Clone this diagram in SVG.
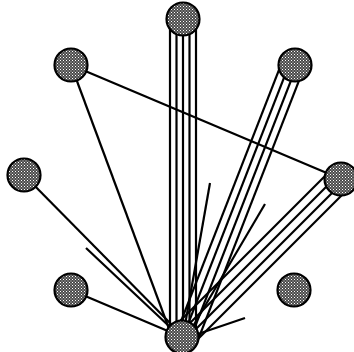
<svg xmlns="http://www.w3.org/2000/svg" width="354" height="352" viewBox="0 0 354 352">
<style>
.e{stroke:#000;stroke-width:2.2;fill:none;stroke-linecap:butt}
.n{fill:url(#dots);stroke:#000;stroke-width:2.2}
</style>
<defs>
<pattern id="dots" width="3" height="3" patternUnits="userSpaceOnUse">
<rect width="3" height="3" fill="#4a4a4a"/>
<rect x="0" y="0" width="1" height="1" fill="#fff"/>
<rect x="1.5" y="1.5" width="1" height="1" fill="#d8d8d8"/>
</pattern>
</defs>
<rect width="354" height="352" fill="#fff"/>
<g id="connectors">
<line class="e" x1="71" y1="65" x2="341" y2="179"/>
<line class="e" x1="71" y1="65" x2="169.5" y2="330"/>
<line class="e" x1="24" y1="175" x2="172" y2="325"/>
<line class="e" x1="86" y1="248" x2="171" y2="328"/>
<line class="e" x1="71" y1="290" x2="182" y2="337"/>
<line class="e" x1="170" y1="19" x2="170" y2="337"/>
<line class="e" x1="176.5" y1="19" x2="176.5" y2="337"/>
<line class="e" x1="183" y1="19" x2="183" y2="337"/>
<line class="e" x1="189.5" y1="19" x2="189.5" y2="337"/>
<line class="e" x1="196" y1="19" x2="196" y2="337"/>
<line class="e" x1="282.5" y1="60.9" x2="176.5" y2="332.9"/>
<line class="e" x1="289.5" y1="63.6" x2="183.5" y2="335.6"/>
<line class="e" x1="296.5" y1="66.4" x2="190.5" y2="338.4"/>
<line class="e" x1="303.5" y1="69.1" x2="196.8" y2="342.8"/>
<line class="e" x1="331.5" y1="169.5" x2="180" y2="321"/>
<line class="e" x1="337.5" y1="175.5" x2="182" y2="331"/>
<line class="e" x1="343.5" y1="181.5" x2="188" y2="337"/>
<line class="e" x1="349.5" y1="187.5" x2="194" y2="343"/>
<line class="e" x1="210" y1="183" x2="185" y2="325"/>
<line class="e" x1="265" y1="204" x2="192" y2="328"/>
<line class="e" x1="245" y1="318" x2="192" y2="336"/>
</g>
<g id="n-top"><circle class="n" cx="183" cy="19" r="16.5"/></g>
<g id="n-topleft"><circle class="n" cx="71" cy="65" r="16.5"/></g>
<g id="n-topright"><circle class="n" cx="295" cy="65" r="16.5"/></g>
<g id="n-left"><circle class="n" cx="24" cy="175" r="16.5"/></g>
<g id="n-right"><circle class="n" cx="341" cy="179" r="16.5"/></g>
<g id="n-bottomleft"><circle class="n" cx="71" cy="290" r="16.5"/></g>
<g id="n-bottomright"><circle class="n" cx="294" cy="290" r="16.5"/></g>
<g id="n-bottom"><circle class="n" cx="182" cy="337" r="16.5"/></g>
</svg>
